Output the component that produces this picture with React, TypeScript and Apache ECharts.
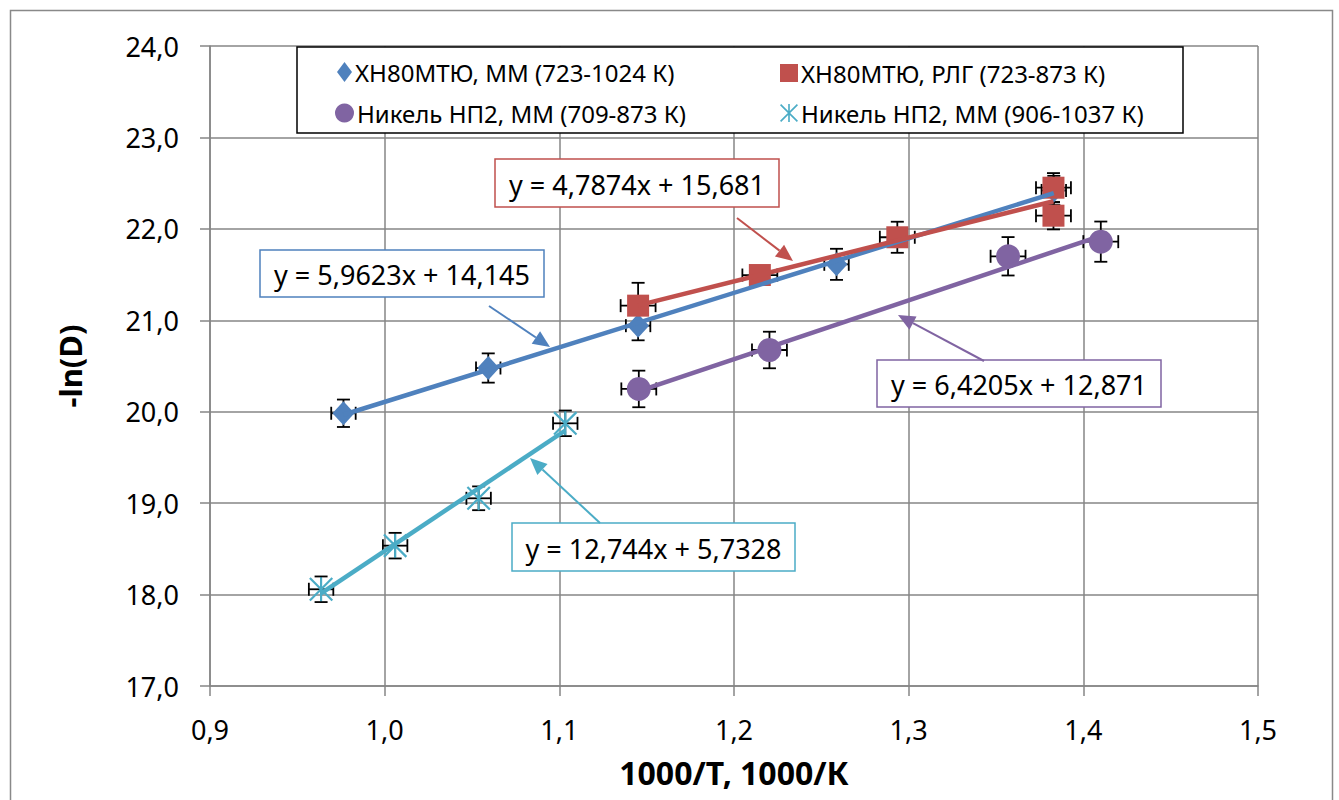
import React, { useEffect, useRef } from 'react';
import * as echarts from 'echarts';

const FONT = '"Noto Sans", "Open Sans", sans-serif';

const SERIES_NAMES = [
  'ХН80МТЮ, ММ (723-1024 К)',
  'ХН80МТЮ, РЛГ (723-873 К)',
  'Никель НП2, ММ (709-873 К)',
  'Никель НП2, ММ (906-1037 К)',
];
const COLORS = ['#4F81BD', '#C0504D', '#8064A2', '#4BACC6'];

// data points (x = 1000/T, y = -ln(D))
const blueX = [0.9764, 1.0593, 1.1451, 1.2587, 1.3831];
const blueY = [19.983, 20.478, 20.941, 21.612, 22.42];
const blueErrY = [0.15, 0.16, 0.16, 0.17, 0.16];

const redX = [1.1451, 1.2148, 1.2935, 1.3829, 1.3829];
const redY = [21.16, 21.495, 21.908, 22.45, 22.144];
const redErrY = [0.25, 0.1, 0.17, 0.16, 0.15];

const purpleX = [1.1455, 1.2203, 1.3569, 1.41];
const purpleY = [20.249, 20.675, 21.7, 21.86];
const purpleErrY = [0.2, 0.2, 0.21, 0.22];

const cyanX = [0.9636, 1.006, 1.0538, 1.1034];
const cyanY = [18.058, 18.535, 19.053, 19.873];
const cyanErrY = [0.14, 0.14, 0.13, 0.14];

const ERR_X = [0.007, 0.01, 0.01, 0.007];

// linear trend lines
const SLOPES = [5.9623, 4.7874, 6.4205, 12.744];
const INTERCEPTS = [14.145, 15.681, 12.871, 5.7328];
const EQUATIONS = [
  'y = 5,9623x + 14,145',
  'y = 4,7874x + 15,681',
  'y = 6,4205x + 12,871',
  'y = 12,744x + 5,7328',
];

const X_TICKS_MIN = 0.9;
const X_TICKS_MAX = 1.5;
const Y_TICKS_MIN = 17;
const Y_TICKS_MAX = 24;

// annotation layout (pixels): box [x1, y1, x2, y2], arrow [sx, sy, ex, ey]
const LABEL_BOXES = [
  [260, 250, 544, 297],
  [495, 159, 779, 207],
  [877, 360, 1161, 407],
  [512, 523, 795, 571],
];
const ARROWS = [
  [489, 306, 550, 347],
  [737, 218, 793, 261],
  [984, 361, 898, 315],
  [600, 523, 530, 458],
];

const ASTERISK =
  'path://M9.1 0 L10.9 0 L10.9 20 L9.1 20 Z M0 1.3 L1.3 0 L20 18.7 L18.7 20 Z M18.7 0 L20 1.3 L1.3 20 L0 18.7 Z';

const SYMBOLS = ['diamond', 'rect', 'circle', ASTERISK];
const SYMBOL_SIZES: any[] = [[22, 24], 22, 24, 24];

const fmt = (v: number) => v.toFixed(1).replace('.', ',');

export default function App() {
  const ref = useRef<HTMLDivElement>(null);

  useEffect(() => {
    document.body.style.margin = '0';
    const chart = echarts.init(ref.current!, undefined, { renderer: 'svg' });

    const xs = [blueX, redX, purpleX, cyanX];
    const ys = [blueY, redY, purpleY, cyanY];
    const eys = [blueErrY, redErrY, purpleErrY, cyanErrY];

    const series: any[] = [];

    // error bars
    xs.forEach((xa, i) => {
      series.push({
        type: 'custom',
        name: 'err' + i,
        z: 1,
        clip: false,
        silent: true,
        encode: { x: 0, y: 1 },
        data: xa.map((x, j) => [x, ys[i][j], ERR_X[i], eys[i][j]]),
        renderItem: (params: any, api: any) => {
          const x = api.value(0);
          const y = api.value(1);
          const ex = api.value(2);
          const ey = api.value(3);
          const top = api.coord([x, y + ey]);
          const bot = api.coord([x, y - ey]);
          const l = api.coord([x - ex, y]);
          const r = api.coord([x + ex, y]);
          const cap = 6.5;
          const st = { stroke: '#000', lineWidth: 1.8 };
          return {
            type: 'group',
            children: [
              { type: 'line', shape: { x1: top[0], y1: top[1], x2: bot[0], y2: bot[1] }, style: st },
              { type: 'line', shape: { x1: top[0] - cap, y1: top[1], x2: top[0] + cap, y2: top[1] }, style: st },
              { type: 'line', shape: { x1: bot[0] - cap, y1: bot[1], x2: bot[0] + cap, y2: bot[1] }, style: st },
              { type: 'line', shape: { x1: l[0], y1: l[1], x2: r[0], y2: r[1] }, style: st },
              { type: 'line', shape: { x1: l[0], y1: l[1] - cap, x2: l[0], y2: l[1] + cap }, style: st },
              { type: 'line', shape: { x1: r[0], y1: r[1] - cap, x2: r[0], y2: r[1] + cap }, style: st },
            ],
          };
        },
      });
    });

    // markers
    xs.forEach((xa, i) => {
      series.push({
        type: 'scatter',
        name: SERIES_NAMES[i],
        z: 2,
        symbol: SYMBOLS[i],
        symbolSize: SYMBOL_SIZES[i],
        itemStyle: { color: COLORS[i], opacity: 1 },
        data: xa.map((x, j) => [x, ys[i][j]]),
      });
    });

    // trend lines
    xs.forEach((xa, i) => {
      const x1 = Math.min(...xa);
      const x2 = Math.max(...xa);
      series.push({
        type: 'line',
        name: 'trend' + i,
        z: 3,
        silent: true,
        symbol: 'none',
        lineStyle: { color: COLORS[i], width: 4.5 },
        data: [
          [x1, SLOPES[i] * x1 + INTERCEPTS[i]],
          [x2, SLOPES[i] * x2 + INTERCEPTS[i]],
        ],
      });
    });

    const legendPos = [
      [337, 60],
      [780, 61],
      [335, 101],
      [780, 101],
    ];
    const legendSizes = [
      [15, 20],
      [18, 18],
      [19, 19],
      [18, 18],
    ];
    const legend = SERIES_NAMES.map((n, i) => ({
      data: [n],
      z: 10,
      left: legendPos[i][0],
      top: legendPos[i][1],
      padding: 0,
      itemWidth: legendSizes[i][0],
      itemHeight: legendSizes[i][1],
      itemGap: 0,
      selectedMode: false,
      textStyle: { fontSize: 24, fontFamily: FONT, color: '#000', padding: [0, 0, 0, -2] },
    }));

    const graphic: any[] = [
      {
        type: 'rect',
        shape: { x: 10.5, y: 10.5, width: 1322, height: 800 },
        style: { fill: 'none', stroke: '#898989', lineWidth: 1.5 },
        z: -10,
        silent: true,
      },
      {
        type: 'rect',
        shape: { x: 297, y: 47, width: 886, height: 86 },
        style: { fill: '#fff', stroke: '#000', lineWidth: 1.5 },
        z: 5,
        silent: true,
      },
    ];

    LABEL_BOXES.forEach((b, i) => {
      graphic.push({
        type: 'rect',
        shape: { x: b[0], y: b[1], width: b[2] - b[0], height: b[3] - b[1] },
        style: { fill: '#fff', stroke: COLORS[i], lineWidth: 1.5 },
        z: 20,
        silent: true,
      });
      graphic.push({
        type: 'text',
        x: (b[0] + b[2]) / 2,
        y: (b[1] + b[3]) / 2 + 1,
        style: {
          text: EQUATIONS[i],
          fontSize: 27,
          fontFamily: FONT,
          fill: '#000',
          align: 'center',
          verticalAlign: 'middle',
        },
        z: 21,
        silent: true,
      });
    });

    ARROWS.forEach((a, i) => {
      const [sx, sy, ex, ey] = a;
      const dx = ex - sx;
      const dy = ey - sy;
      const len = Math.sqrt(dx * dx + dy * dy);
      const ux = dx / len;
      const uy = dy / len;
      const hl = 17;
      const hw = 7.5;
      const bx = ex - ux * hl;
      const by = ey - uy * hl;
      graphic.push({
        type: 'line',
        shape: { x1: sx, y1: sy, x2: bx, y2: by },
        style: { stroke: COLORS[i], lineWidth: 2 },
        z: 20,
        silent: true,
      });
      graphic.push({
        type: 'polygon',
        shape: {
          points: [
            [ex, ey],
            [bx - uy * hw, by + ux * hw],
            [bx + uy * hw, by - ux * hw],
          ],
        },
        style: { fill: COLORS[i] },
        z: 20,
        silent: true,
      });
    });

    const axisLine = { show: true, lineStyle: { color: '#868686', width: 1.5 } };
    const split = { show: true, lineStyle: { color: '#868686', width: 1.5 } };

    chart.setOption({
      animation: false,
      backgroundColor: '#fff',
      grid: { left: 210, top: 46, width: 1048, height: 640, outerBoundsMode: 'none', containLabel: false },
      xAxis: {
        type: 'value',
        min: X_TICKS_MIN,
        max: X_TICKS_MAX,
        interval: 0.1,
        axisLine,
        splitLine: split,
        axisTick: { show: true, inside: false, length: 10, lineStyle: { color: '#868686', width: 1.5 } },
        axisLabel: { fontSize: 27, fontFamily: FONT, color: '#000', margin: 30, formatter: fmt },
        name: '1000/Т, 1000/К',
        nameLocation: 'middle',
        nameGap: 70,
        nameMoveOverlap: false,
        nameTextStyle: { fontSize: 32, fontWeight: 'bold', fontFamily: FONT, color: '#000' },
      },
      yAxis: {
        type: 'value',
        min: Y_TICKS_MIN,
        max: Y_TICKS_MAX,
        interval: 1,
        axisLine,
        splitLine: split,
        axisTick: { show: true, inside: false, length: 10, lineStyle: { color: '#868686', width: 1.5 } },
        axisLabel: { fontSize: 27, fontFamily: FONT, color: '#000', margin: 31, formatter: fmt },
        name: '-ln(D)',
        nameLocation: 'middle',
        nameGap: 125,
        nameMoveOverlap: false,
        nameTextStyle: { fontSize: 31, fontWeight: 'bold', fontFamily: FONT, color: '#000' },
      },
      legend,
      graphic,
      series,
    });

    return () => chart.dispose();
  }, []);

  return <div ref={ref} style={{ width: 1339, height: 800 }} />;
}
